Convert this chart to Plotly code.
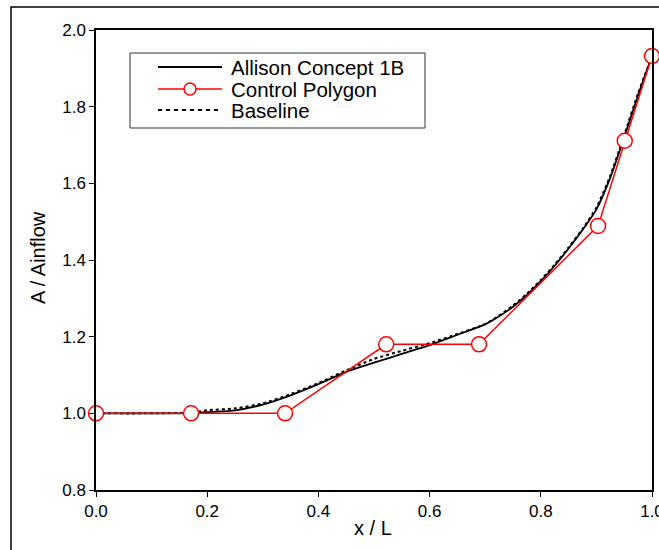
import plotly.graph_objects as go

# Data
curve_x = [0.0, 0.1, 0.17, 0.2, 0.25, 0.3, 0.35, 0.4, 0.45, 0.5, 0.55, 0.6, 0.65, 0.7, 0.725, 0.75, 0.775, 0.8, 0.825, 0.85, 0.875, 0.9, 0.925, 0.95, 0.975, 1.0]
allison_y = [1.0, 1.0, 1.0, 1.003, 1.008, 1.023, 1.047, 1.076, 1.108, 1.132, 1.155, 1.178, 1.205, 1.232, 1.253, 1.278, 1.309, 1.345, 1.385, 1.43, 1.478, 1.532, 1.615, 1.72, 1.83, 1.932]
baseline_y = [1.0, 1.0, 1.002, 1.008, 1.013, 1.026, 1.05, 1.079, 1.112, 1.142, 1.163, 1.183, 1.207, 1.233, 1.255, 1.281, 1.312, 1.348, 1.388, 1.433, 1.481, 1.537, 1.62, 1.726, 1.835, 1.932]

poly_x = [0.0, 0.171, 0.34, 0.522, 0.689, 0.903, 0.951, 1.0]
poly_y = [1.0, 1.0, 1.0, 1.18, 1.18, 1.489, 1.711, 1.932]

x_ticks = [0.0, 0.2, 0.4, 0.6, 0.8, 1.0]
y_ticks = [0.8, 1.0, 1.2, 1.4, 1.6, 1.8, 2.0]

legend_names = ["Allison Concept 1B", "Control Polygon", "Baseline"]
x_title = "x / L"
y_title = "A / Ainflow"

FONT = "Liberation Sans, Arial, sans-serif"

fig = go.Figure()
fig.add_trace(go.Scatter(x=curve_x, y=baseline_y, mode="lines", name=legend_names[2],
                         line=dict(color="black", width=2, dash="3px,3px", shape="spline", smoothing=0.6),
                         showlegend=False))
fig.add_trace(go.Scatter(x=curve_x, y=allison_y, mode="lines", name=legend_names[0],
                         line=dict(color="black", width=1.8, shape="spline", smoothing=0.6),
                         showlegend=False))
fig.add_trace(go.Scatter(x=poly_x, y=poly_y, mode="lines+markers", name=legend_names[1],
                         line=dict(color="#ff0000", width=1.5),
                         marker=dict(symbol="circle", size=15, color="white",
                                     line=dict(color="#ff0000", width=1.5)),
                         showlegend=False, cliponaxis=False))

# target screen plot area: x 96..652, y 30..490 (page body margin removed below)
W, H = 659, 550
L, T = 96, 30
R = W - 652
B = H - 490
pw, ph = W - L - R, H - T - B

def px(xs):
    return (xs - L) / pw

def py(ys_):
    return 1 - (ys_ - T) / ph

shapes = []
# outer frame
shapes.append(dict(type="rect", xref="paper", yref="paper", x0=px(11), x1=px(670), y0=py(7), y1=py(560),
                   line=dict(color="black", width=1.5), layer="below"))
# legend box
shapes.append(dict(type="rect", xref="paper", yref="paper", x0=px(130), x1=px(425), y0=py(53), y1=py(128),
                   line=dict(color="#333333", width=1), fillcolor="white"))
ys = [67, 89, 110]
shapes.append(dict(type="line", xref="paper", yref="paper", x0=px(158), x1=px(222), y0=py(ys[0]), y1=py(ys[0]),
                   line=dict(color="black", width=1.8)))
shapes.append(dict(type="line", xref="paper", yref="paper", x0=px(158), x1=px(222), y0=py(ys[1]), y1=py(ys[1]),
                   line=dict(color="#ff0000", width=1.5)))
shapes.append(dict(type="circle", xref="paper", yref="paper", x0=px(184), x1=px(196), y0=py(ys[1] - 6), y1=py(ys[1] + 6),
                   line=dict(color="#ff0000", width=1.5), fillcolor="white"))
shapes.append(dict(type="line", xref="paper", yref="paper", x0=px(158), x1=px(222), y0=py(ys[2]), y1=py(ys[2]),
                   line=dict(color="black", width=2, dash="4px,4px")))

annotations = []
for name, yy in zip(legend_names, ys):
    annotations.append(dict(text=name, xref="paper", yref="paper", x=px(229), y=py(yy),
                            xanchor="left", yanchor="middle", showarrow=False,
                            font=dict(family=FONT, size=20.5, color="black")))
annotations.append(dict(text=x_title, xref="paper", yref="paper", x=px(373), y=py(528),
                        xanchor="center", yanchor="middle", showarrow=False,
                        font=dict(family=FONT, size=20, color="black")))
annotations.append(dict(text=y_title, xref="paper", yref="paper", x=px(38), y=py(258),
                        xanchor="center", yanchor="middle", showarrow=False, textangle=-90,
                        font=dict(family=FONT, size=20, color="black")))

fig.update_layout(
    width=W, height=H,
    margin=dict(l=L, r=R, t=T, b=B, autoexpand=False),
    paper_bgcolor="white", plot_bgcolor="white",
    showlegend=False,
    shapes=shapes, annotations=annotations,
    font=dict(family=FONT, size=17, color="black"),
)
fig.update_xaxes(range=[0, 1], tickvals=x_ticks, ticktext=[f"{v:.1f}" for v in x_ticks],
                 ticks="outside", ticklen=5, tickcolor="black", showgrid=False, zeroline=False,
                 showline=True, linecolor="black", linewidth=1.5, mirror=True,
                 automargin=False, ticklabeloverflow="allow",
                 tickfont=dict(size=17))
fig.update_yaxes(range=[0.8, 2.0], tickvals=y_ticks, ticktext=[f"{v:.1f}" for v in y_ticks],
                 ticks="outside", ticklen=5, tickcolor="black", showgrid=False, zeroline=False,
                 showline=True, linecolor="black", linewidth=1.5, mirror=True,
                 automargin=False,
                 tickfont=dict(size=17))

fig.write_html("out.html",
               config={"displayModeBar": False},
               post_script="document.body.style.margin='0';document.body.style.overflow='hidden';")
